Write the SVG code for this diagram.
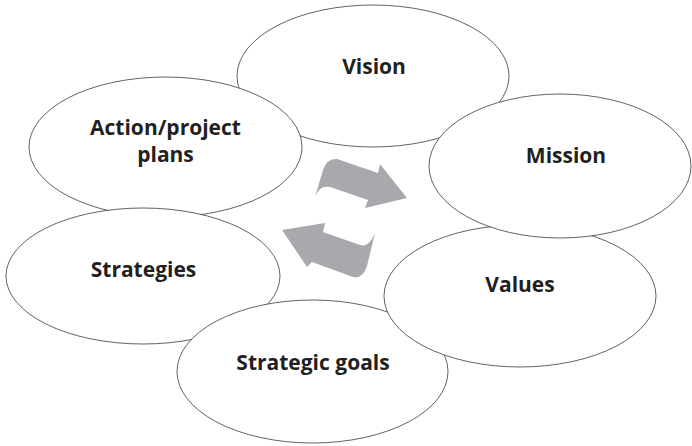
<svg xmlns="http://www.w3.org/2000/svg" width="692" height="446" viewBox="0 0 692 446">
<style>
.node ellipse{fill:#fff;stroke:#3a3a3a;stroke-width:0.8}
.node text{font-family:"Open Sans","Noto Sans","Liberation Sans",sans-serif;font-weight:bold;font-size:21px;fill:#231f20;text-anchor:middle}
.arrow{fill:#a7a9ac;stroke:none}
</style>
<rect width="692" height="446" fill="#fff"/>
<g id="vision" class="node"><ellipse cx="373" cy="76" rx="136" ry="71"/><text x="374" y="74">Vision</text></g>
<g id="action" class="node"><ellipse cx="165.5" cy="147" rx="136.5" ry="70"/><text x="165.5" y="135">Action/project</text><text x="165.5" y="162">plans</text></g>
<g id="strategies" class="node"><ellipse cx="143" cy="276" rx="137" ry="68"/><text x="143.5" y="277">Strategies</text></g>
<g id="goals" class="node"><ellipse cx="312.5" cy="371.5" rx="135.5" ry="71.5"/><text x="313" y="370">Strategic goals</text></g>
<g id="values" class="node"><ellipse cx="520" cy="296" rx="136" ry="71"/><text x="520" y="292">Values</text></g>
<g id="mission" class="node"><ellipse cx="560" cy="166" rx="131" ry="72"/><text x="566" y="163">Mission</text></g>
<g id="connectors">
<path class="arrow" d="M315,197 L323,170 Q327,158 337,159 L378,173 L380,164 L407,198 L365,208 L368,200 L333,188 C325,185 319,187 315,197 Z"/>
<path class="arrow" d="M282,230 L325,223 L323,232 L360,245 C367,247 371,242 375,233 L367,266 Q363,279 353,277 L312,262 L307,267 Z"/>
</g>
</svg>
